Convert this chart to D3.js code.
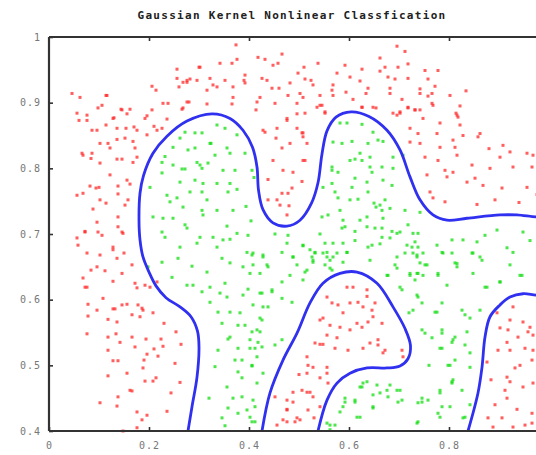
<!DOCTYPE html>
<html>
<head>
<meta charset="utf-8">
<script src="https://cdn.jsdelivr.net/npm/d3@7"></script>
<style>
  body { margin: 0; background: #fff; }
  svg { display: block; }
</style>
</head>
<body>
<svg id="chart"></svg>
<script>
const title = 'Gaussian Kernel Nonlinear Classfication';
const xTicks = [0, 0.2, 0.4, 0.6, 0.8];
const yTicks = [0.4, 0.5, 0.6, 0.7, 0.8, 0.9, 1];

// class -1 samples (red)
const redPoints = [
  [.046,.914],[.062,.908],[.114,.911],[.106,.896],[.098,.892],[.056,.884],[.076,.881],[.060,.873],[.076,.873],
  [.146,.889],[.162,.890],[.156,.883],[.130,.877],[.206,.889],[.196,.880],[.206,.925],[.214,.919],[.256,.951],
  [.256,.937],[.268,.931],[.260,.924],[.276,.934],[.228,.899],[.238,.899],[.266,.890],[.236,.875],
  [.086,.858],[.096,.858],[.114,.866],[.136,.861],[.154,.861],[.170,.863],[.176,.858],[.196,.851],[.210,.864],
  [.216,.858],[.226,.861],[.102,.838],[.118,.838],[.122,.831],[.136,.844],[.152,.846],[.168,.841],[.172,.831],
  [.066,.823],[.068,.820],[.086,.823],[.102,.808],[.136,.814],[.146,.814],[.176,.817],[.168,.809],[.084,.815],
  [.122,.790],[.156,.782],[.082,.773],[.094,.770],[.100,.771],[.138,.773],[.162,.776],[.068,.762],[.056,.759],
  [.138,.761],[.102,.752],[.114,.747],[.158,.752],[.152,.744],[.088,.738],[.096,.718],[.138,.726],[.072,.704],
  [.098,.703],[.146,.703],[.300,.954],[.282,.936],[.144,.890],[.128,.876],[.116,.911],[.192,.876],[.280,.901],
  // lower left
  [.056,.694],[.072,.703],[.106,.698],[.148,.701],[.138,.711],[.058,.683],[.076,.671],[.102,.668],[.128,.680],
  [.128,.676],[.136,.663],[.150,.671],[.166,.653],[.084,.645],[.096,.650],[.112,.644],[.146,.640],[.068,.633],
  [.072,.619],[.076,.619],[.128,.628],[.172,.625],[.176,.618],[.192,.622],[.202,.619],[.216,.627],[.108,.602],
  [.078,.593],[.096,.584],[.078,.575],[.128,.586],[.132,.586],[.146,.592],[.156,.593],[.178,.592],[.186,.587],
  [.188,.584],[.208,.580],[.166,.577],[.182,.574],[.118,.570],[.136,.566],[.230,.564],[.076,.548],[.118,.543],
  [.134,.548],[.142,.535],[.166,.543],[.194,.540],[.224,.540],[.254,.551],[.264,.532],[.228,.529],[.210,.525],
  [.172,.528],[.118,.523],[.196,.517],[.218,.514],[.190,.508],[.128,.507],[.138,.507],[.188,.496],[.118,.484],
  [.156,.488],[.208,.476],[.214,.481],[.192,.476],[.162,.462],[.166,.461],[.138,.452],[.102,.443],[.136,.438],
  [.176,.429],[.196,.424],[.186,.417],[.176,.405],[.148,.400],[.244,.458],[.252,.503],[.236,.430],[.262,.474],
  // top band
  [.374,.988],[.418,.969],[.432,.966],[.466,.974],[.458,.960],[.448,.957],[.538,.960],[.592,.957],[.576,.945],
  [.510,.954],[.498,.945],[.696,.986],[.712,.978],[.662,.968],[.718,.959],[.672,.954],[.698,.954],[.662,.948],
  [.752,.949],[.778,.949],[.678,.939],[.692,.936],[.718,.937],[.758,.936],[.602,.939],[.626,.951],[.622,.933],
  [.638,.922],[.634,.914],[.682,.922],[.682,.914],[.742,.921],[.742,.914],[.772,.925],[.766,.914],[.758,.910],
  [.802,.911],[.834,.918],[.706,.905],[.766,.899],[.822,.895],[.732,.889],[.742,.889],[.718,.892],[.702,.886],
  [.696,.881],[.814,.884],[.818,.878],[.748,.876],[.654,.892],[.626,.893],[.568,.927],[.566,.919],[.568,.911],
  [.594,.916],[.542,.911],[.546,.896],[.552,.886],[.524,.934],[.528,.927],[.512,.936],[.502,.914],[.508,.908],
  [.482,.930],[.496,.899],[.512,.884],[.476,.876],[.478,.911],[.452,.899],[.446,.922],[.460,.922],[.436,.934],
  [.426,.937],[.422,.908],[.416,.901],[.414,.889],[.392,.942],[.390,.934],[.392,.930],[.368,.924],[.368,.908],
  [.366,.898],[.352,.934],[.342,.960],[.366,.960],[.376,.966],[.302,.954],[.328,.927],[.336,.924],[.322,.937],
  [.316,.919],[.296,.934],[.276,.931],[.276,.901],[.316,.898],[.268,.892],[.536,.893],[.648,.893],[.608,.905],
  // valley between the lobes
  [.432,.855],[.428,.858],[.456,.861],[.476,.873],[.496,.861],[.506,.854],[.508,.848],[.482,.838],[.466,.831],
  [.512,.812],[.488,.794],[.468,.797],[.448,.812],[.486,.770],[.478,.762],[.466,.762],[.456,.752],[.462,.744],
  [.480,.743],[.438,.752],[.476,.729],[.496,.883],[.438,.783],[.506,.780],[.454,.846],
  // upper right
  [.752,.817],[.722,.840],[.742,.838],[.776,.853],[.782,.832],[.808,.843],[.812,.832],[.816,.820],[.778,.812],
  [.792,.797],[.808,.794],[.796,.787],[.756,.790],[.762,.764],[.768,.755],[.792,.749],[.836,.779],[.852,.785],
  [.868,.774],[.858,.848],[.862,.853],[.828,.850],[.846,.805],[.882,.800],[.908,.835],[.902,.817],[.922,.825],
  [.928,.802],[.956,.823],[.968,.820],[.966,.802],[.906,.770],[.956,.771],[.822,.866],[.816,.881],[.768,.896],
  [.782,.869],[.738,.853],[.722,.861],[.732,.889],[.718,.893],[.702,.884],[.688,.884],[.626,.893],[.542,.896],
  [.552,.884],[.516,.838],[.508,.812],[.508,.854],[.856,.745],[.892,.752],[.940,.748],[.976,.760],[.880,.830],
  // inside the middle lobe
  [.556,.604],[.566,.595],[.578,.592],[.596,.619],[.608,.619],[.636,.615],[.636,.605],[.602,.595],[.618,.596],
  [.652,.595],[.646,.584],[.628,.589],[.588,.580],[.648,.574],[.542,.569],[.548,.572],[.562,.561],[.582,.558],
  [.616,.564],[.626,.558],[.638,.566],[.666,.564],[.602,.554],[.556,.546],[.576,.542],[.532,.534],[.542,.532],
  [.548,.532],[.572,.526],[.598,.523],[.628,.526],[.642,.534],[.658,.531],[.672,.523],[.668,.519],[.706,.523],
  [.708,.513],[.658,.539],[.516,.513],[.518,.500],[.528,.497],[.516,.488],[.556,.497],[.556,.488],[.542,.481],
  [.558,.473],[.506,.462],[.488,.459],[.522,.459],[.528,.452],[.476,.447],[.452,.452],[.488,.444],[.542,.437],
  [.476,.432],[.468,.417],[.496,.420],[.492,.414],[.456,.409],[.502,.417],[.476,.414],[.516,.459],[.518,.432],
  [.476,.433],[.530,.420],[.500,.486],
  // inside the right-hand region
  [.928,.589],[.922,.569],[.902,.557],[.918,.554],[.948,.566],[.962,.558],[.958,.551],[.968,.546],[.938,.543],
  [.952,.526],[.916,.535],[.922,.523],[.898,.523],[.968,.523],[.942,.500],[.932,.496],[.966,.508],[.876,.505],
  [.916,.482],[.922,.475],[.948,.467],[.968,.473],[.912,.462],[.916,.450],[.892,.440],[.936,.433],[.966,.427],
  [.878,.420],[.906,.420],[.928,.406],[.952,.409],[.966,.412],[.888,.406],[.896,.580],[.978,.590],[.884,.478]
];

// class +1 samples (green)
const greenPoints = [
  // first lobe
  [.272,.855],[.292,.854],[.306,.854],[.322,.838],[.324,.838],[.352,.861],[.376,.851],[.248,.832],[.278,.828],
  [.292,.831],[.332,.820],[.356,.831],[.362,.823],[.392,.823],[.226,.809],[.248,.805],[.266,.799],[.272,.799],
  [.296,.809],[.302,.805],[.306,.800],[.318,.808],[.348,.797],[.372,.797],[.406,.797],[.226,.793],[.262,.779],
  [.292,.782],[.308,.777],[.336,.777],[.362,.777],[.202,.771],[.236,.759],[.282,.764],[.306,.764],[.358,.764],
  [.376,.768],[.256,.755],[.316,.752],[.242,.749],[.268,.741],[.306,.736],[.336,.736],[.368,.736],[.308,.729],
  [.208,.726],[.228,.724],[.248,.724],[.272,.714],[.276,.709],[.356,.712],[.226,.703],[.232,.695],[.302,.695],
  [.328,.695],[.362,.692],[.376,.701],[.398,.698],[.262,.680],[.296,.686],[.336,.680],[.348,.691],[.396,.672],
  [.408,.671],[.226,.657],[.258,.663],[.286,.651],[.316,.642],[.346,.663],[.362,.656],[.388,.650],[.402,.640],
  [.428,.668],[.436,.653],[.476,.686],[.488,.665],[.508,.682],[.526,.665],[.532,.672],[.406,.668],[.246,.634],
  [.198,.650],[.410,.786],[.232,.818],[.262,.846],[.336,.866],[.394,.742],[.404,.720],[.452,.700],[.478,.698],
  // second lobe and middle band
  [.582,.869],[.596,.869],[.626,.867],[.568,.840],[.586,.838],[.606,.841],[.638,.838],[.648,.855],[.658,.843],
  [.668,.841],[.622,.823],[.602,.812],[.612,.814],[.626,.812],[.642,.817],[.566,.802],[.566,.797],[.578,.794],
  [.642,.802],[.666,.802],[.646,.794],[.688,.800],[.688,.817],[.708,.820],[.612,.785],[.636,.779],[.668,.782],
  [.548,.771],[.566,.777],[.606,.771],[.572,.764],[.638,.764],[.686,.774],[.578,.755],[.602,.752],[.618,.753],
  [.654,.741],[.650,.747],[.662,.744],[.666,.736],[.682,.739],[.672,.752],[.712,.736],[.742,.733],[.582,.736],
  [.558,.729],[.546,.726],[.636,.726],[.668,.724],[.588,.721],[.592,.711],[.586,.709],[.622,.721],[.636,.711],
  [.652,.709],[.666,.709],[.612,.704],[.686,.704],[.696,.701],[.702,.703],[.718,.714],[.728,.701],[.738,.701],
  [.682,.694],[.666,.695],[.646,.683],[.638,.680],[.662,.685],[.716,.683],[.726,.680],[.732,.688],[.738,.680],
  [.776,.683],[.806,.691],[.828,.691],[.856,.688],[.916,.679],[.928,.672],[.568,.686],[.588,.686],[.552,.686],
  [.508,.683],[.522,.676],[.532,.671],[.548,.671],[.576,.671],[.596,.672],[.556,.665],[.562,.660],[.528,.657],
  [.588,.657],[.516,.645],[.566,.645],[.508,.630],[.696,.665],[.728,.671],[.736,.665],[.742,.656],[.748,.671],
  [.756,.653],[.738,.640],[.722,.640],[.676,.637],[.702,.619],[.738,.604],[.788,.671],[.806,.671],[.812,.656],
  [.848,.671],[.866,.660],[.778,.640],[.816,.650],[.848,.640],[.872,.619],[.902,.627],[.946,.637],[.796,.622],
  [.962,.690],[.982,.664],[.948,.703],[.896,.706],[.872,.698],[.612,.690],[.542,.700],
  // left channel
  [.276,.622],[.288,.622],[.306,.612],[.322,.619],[.352,.625],[.342,.610],[.356,.604],[.322,.596],[.388,.607],
  [.398,.616],[.426,.610],[.446,.615],[.438,.589],[.338,.581],[.362,.581],[.382,.580],[.422,.572],[.346,.564],
  [.378,.561],[.392,.561],[.406,.551],[.362,.543],[.358,.540],[.402,.539],[.418,.535],[.426,.528],[.378,.526],
  [.338,.523],[.402,.526],[.416,.513],[.372,.508],[.386,.508],[.406,.499],[.378,.490],[.386,.481],[.356,.467],
  [.416,.473],[.368,.450],[.386,.452],[.358,.435],[.378,.427],[.396,.432],[.402,.421],[.346,.420],[.352,.408],
  [.412,.414],[.452,.531],[.428,.665],[.438,.650],[.466,.672],[.488,.665],[.496,.653],[.512,.642],[.528,.660],
  [.408,.653],[.422,.640],[.466,.627],[.482,.637],[.446,.612],[.422,.610],[.466,.602],[.486,.596],[.408,.592],
  [.428,.589],[.426,.569],[.416,.554],[.422,.551],[.466,.539],[.412,.526],[.406,.500],[.428,.488],[.408,.447],
  [.412,.437],[.406,.414],[.332,.498],[.320,.450],
  // right channel
  [.556,.672],[.568,.665],[.552,.653],[.562,.648],[.596,.672],[.642,.660],[.692,.653],[.712,.671],[.736,.668],
  [.752,.653],[.786,.672],[.816,.655],[.846,.671],[.876,.619],[.902,.627],[.922,.653],[.942,.637],[.862,.665],
  [.678,.637],[.696,.648],[.722,.637],[.736,.640],[.748,.637],[.778,.637],[.732,.630],[.706,.615],[.746,.595],
  [.728,.584],[.772,.581],[.826,.584],[.862,.584],[.746,.554],[.766,.542],[.786,.554],[.786,.526],[.802,.500],
  [.808,.539],[.836,.551],[.842,.497],[.808,.478],[.782,.462],[.786,.437],[.738,.443],[.746,.450],[.782,.421],
  [.842,.440],[.736,.412],[.628,.473],[.636,.475],[.656,.470],[.676,.462],[.696,.462],[.678,.452],[.622,.467],
  [.592,.444],[.612,.447],[.648,.437],[.616,.421],[.588,.437],[.556,.412],[.562,.409],[.562,.402],[.572,.409],
  [.582,.429],[.592,.450],[.612,.444],[.622,.421],[.626,.467],[.648,.455],[.662,.458],[.648,.435],[.682,.470],
  [.698,.444],[.738,.414],[.746,.444],[.758,.447],[.778,.427],[.806,.475],[.826,.462],[.832,.421],
  [.736,.607],[.776,.581],[.786,.595],[.832,.577],[.842,.572],[.752,.549],[.786,.549],[.806,.535],[.812,.543],
  [.832,.531],[.782,.526],[.812,.508],[.842,.519],[.798,.500],[.806,.473],[.782,.458],[.802,.437],[.828,.420],
  [.702,.462],[.706,.447],[.720,.580],[.760,.500]
];

// decision boundary
const boundaryMain = [
  [.278,.400],[.286,.437],[.296,.482],[.300,.528],[.297,.552],[.284,.574],[.262,.589],[.234,.603],[.214,.621],
  [.200,.642],[.188,.665],[.182,.691],[.180,.721],[.182,.762],[.189,.789],[.208,.823],[.236,.849],[.276,.872],
  [.326,.883],[.362,.876],[.388,.858],[.407,.832],[.416,.802],[.419,.767],[.428,.737],[.448,.717],[.476,.712],
  [.502,.721],[.525,.747],[.538,.778],[.546,.822],[.556,.857],[.574,.878],[.604,.886],[.640,.879],[.676,.858],
  [.702,.828],[.722,.787],[.742,.752],[.768,.729],[.796,.721],[.836,.724],[.902,.729],[.936,.729],[.974,.726],
  [1.0,.726]
];
const boundaryMiddle = [
  [.426,.400],[.442,.458],[.468,.508],[.496,.549],[.522,.595],[.548,.625],[.582,.640],[.616,.642],[.656,.625],
  [.688,.589],[.712,.556],[.723,.530],[.718,.510],[.702,.499],[.676,.496],[.636,.496],[.602,.488],[.576,.473],
  [.556,.447],[.538,.400]
];
const boundaryRight = [
  [.838,.400],[.858,.458],[.866,.497],[.872,.543],[.882,.574],[.902,.592],[.922,.604],[.948,.609],[.974,.607],
  [1.0,.607]
];

const width = 536;
const height = 455;
const plotLeft = 49;
const plotRight = 549;
const plotTop = 37;
const plotBottom = 431;

const svg = d3.select('#chart')
  .attr('width', width)
  .attr('height', height);

const x = d3.scaleLinear().domain([0, 1]).range([plotLeft, plotRight]);
const y = d3.scaleLinear().domain([0.4, 1]).range([plotBottom, plotTop]);

svg.append('text')
  .attr('x', 292)
  .attr('y', 19)
  .attr('text-anchor', 'middle')
  .style('font', 'bold 11px "DejaVu Sans Mono", monospace')
  .style('letter-spacing', '1.3px')
  .attr('fill', '#222')
  .text(title);

const marks = svg.append('g');

const drawPoints = (pts, colour) => {
  marks.append('g')
    .selectAll('rect')
    .data(pts)
    .enter()
    .append('rect')
    .attr('x', d => x(d[0]) - 1.5)
    .attr('y', d => y(d[1]) - 1.5)
    .attr('width', 3)
    .attr('height', 3)
    .attr('fill', colour)
    .attr('opacity', 0.75);
};
drawPoints(redPoints, '#ff2a2a');
drawPoints(greenPoints, '#12dd12');

const line = d3.line()
  .x(d => x(d[0]))
  .y(d => y(d[1]))
  .curve(d3.curveCatmullRom.alpha(0.5));

[boundaryMain, boundaryMiddle, boundaryRight].forEach(b => {
  marks.append('path')
    .attr('d', line(b))
    .attr('fill', 'none')
    .attr('stroke', '#3030f0')
    .attr('stroke-width', 2.8)
    .attr('stroke-linejoin', 'round');
});

const fmt = d3.format('~g');
const tickFont = '10px "DejaVu Sans Mono", monospace';

const xAxis = svg.append('g')
  .attr('transform', `translate(0,${plotBottom})`)
  .call(d3.axisBottom(x).tickValues(xTicks).tickFormat(fmt).tickSize(-4).tickPadding(11));

const xTop = svg.append('g')
  .attr('transform', `translate(0,${plotTop})`)
  .call(d3.axisTop(x).tickValues(xTicks.slice(1)).tickFormat('').tickSize(-4));

const yAxis = svg.append('g')
  .attr('transform', `translate(${plotLeft},0)`)
  .call(d3.axisLeft(y).tickValues(yTicks).tickFormat(fmt).tickSize(-4).tickPadding(8));

[xAxis, xTop, yAxis].forEach(a => {
  a.select('.domain').remove();
  a.selectAll('.tick line').attr('stroke', '#333').attr('stroke-width', 1.6);
  a.selectAll('.tick text')
    .style('font', tickFont)
    .style('letter-spacing', '1px')
    .attr('fill', '#777');
});

// frame: left, top and bottom edges (right edge lies outside the window)
const frame = svg.append('g')
  .attr('stroke', '#333')
  .attr('stroke-width', 2.2)
  .attr('fill', 'none');
frame.append('line')
  .attr('x1', x(0)).attr('x2', x(0))
  .attr('y1', y(1)).attr('y2', y(0.4));
frame.append('line')
  .attr('x1', x(0)).attr('x2', x(1))
  .attr('y1', y(1)).attr('y2', y(1));
frame.append('line')
  .attr('x1', x(0)).attr('x2', x(1))
  .attr('y1', y(0.4)).attr('y2', y(0.4));
</script>
</body>
</html>
